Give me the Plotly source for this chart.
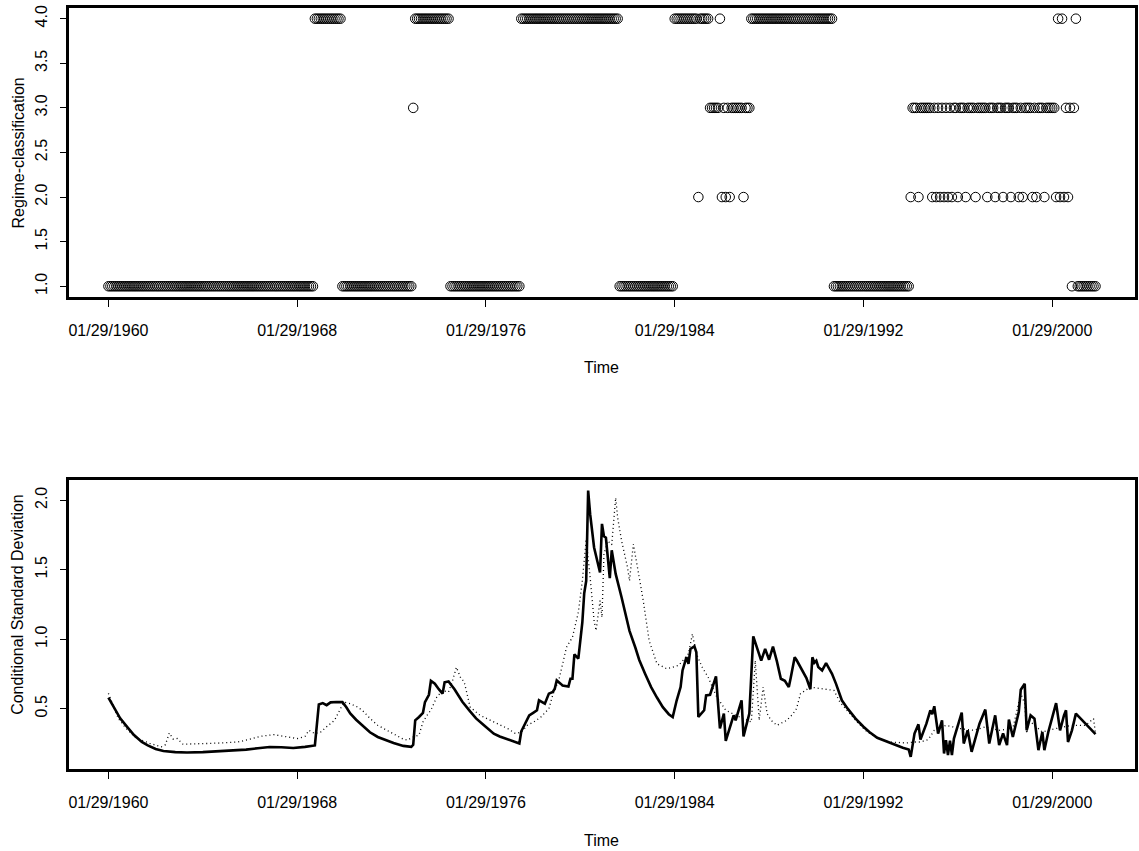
import pandas as pd
import plotly.graph_objects as go

# ---------------- data ----------------
START = "1960-01-29"          # first monthly observation
N_MONTHS = 503                # Jan 1960 .. Nov 2001

# regime classification, run-length encoded (regime, number of consecutive months)
regime_values = [1, 4, 1, 3, 4, 1, 4, 1, 4, 2, 4, 3, 4, 2, 3, 2, 3, 2, 3, 2, 3,
                 4, 1, 2, 3, 2, 3,
                 2, 3, 2, 3, 2, 3, 2, 3, 2, 3, 2, 3, 2, 3, 2, 3, 2, 3, 2, 3, 2, 3,
                 2, 3, 2, 3, 2, 3, 2, 3, 2, 3, 2, 3, 2, 3,
                 2, 4, 2, 4, 2, 3, 2, 3, 1, 3, 4, 1]
regime_lengths = [105, 14, 36, 1, 18, 36, 50, 28, 12, 1, 5, 5, 1, 1, 1, 1, 1, 1, 6, 1, 3,
                  42, 39, 1, 3, 1, 6,
                  1, 1, 1, 1, 1, 1, 1, 1, 1, 1, 1, 2, 1, 3, 1, 4, 1, 5, 1, 3,
                  1, 3, 1, 3, 1, 3, 1, 1, 1, 4, 1, 1, 1, 3, 1, 5,
                  1, 1, 1, 1, 1, 1, 1, 1, 1, 1, 1, 10]

# conditional standard deviation (solid line): month index, value
sd_months = [0, 3, 6, 10, 13, 17, 20, 24, 28, 34, 40, 48, 55, 63, 70, 76, 82, 88, 94, 100,
             104, 105, 107, 109, 111, 113, 116, 119, 121, 123, 126, 130, 133, 137, 141, 145,
             150, 154, 155, 156, 158, 160, 161, 163, 164, 166, 168, 170, 171, 173, 176, 180,
             184, 187, 191, 196, 199, 203, 206, 209, 210, 212, 214, 216, 218, 219, 221, 222,
             224, 226, 227, 228, 230, 231, 234, 235, 236, 237, 239, 240, 241, 242, 243, 244,
             245, 247, 248, 249, 250, 251, 252, 253, 255, 256, 258, 261, 263, 265, 268, 270,
             273, 276, 279, 282, 285, 287, 289, 291, 292, 294, 295, 296, 298, 299, 300, 303,
             304, 306, 309, 311, 313, 314, 318, 319, 322, 323, 326, 328, 332, 334, 336, 338,
             340, 342, 344, 346, 347, 349, 350, 352, 355, 357, 358, 359, 360, 361, 363, 365,
             368, 370, 373, 376, 380, 384, 387, 391, 396, 400, 404, 407, 408, 410, 412, 413,
             416, 418, 419, 420, 422, 424, 425, 426, 427, 428, 429, 430, 434, 435, 437, 439,
             443, 446, 448, 451, 453, 455, 457, 458, 460, 463, 464, 466, 467, 469, 471, 473,
             475, 476, 478, 482, 484, 486, 487, 488, 490, 492, 502]
sd_values = [0.58, 0.50, 0.43, 0.36, 0.31, 0.26, 0.235, 0.21, 0.195, 0.187, 0.184, 0.187,
             0.192, 0.198, 0.205, 0.215, 0.224, 0.222, 0.217, 0.225,
             0.232, 0.235, 0.53, 0.54, 0.525, 0.545, 0.548, 0.547, 0.51, 0.465, 0.42, 0.368,
             0.33, 0.296, 0.272, 0.253,
             0.232, 0.225, 0.24, 0.416, 0.44, 0.47, 0.547, 0.60, 0.70, 0.68, 0.64, 0.608,
             0.69, 0.696, 0.64, 0.55,
             0.48, 0.43, 0.38, 0.32, 0.30, 0.278, 0.262, 0.249, 0.337, 0.40, 0.452, 0.47,
             0.488, 0.56, 0.54, 0.536,
             0.608, 0.62, 0.643, 0.703, 0.68, 0.667, 0.66, 0.715, 0.715, 0.89, 0.86, 1.0,
             1.12, 1.33, 1.42, 2.07,
             1.90, 1.66, 1.60, 1.55, 1.48, 1.83, 1.74, 1.73, 1.44, 1.64, 1.47, 1.30, 1.18,
             1.06, 0.94, 0.85,
             0.75, 0.655, 0.58, 0.511, 0.46, 0.44, 0.56, 0.655, 0.775, 0.87, 0.823, 0.93,
             0.949, 0.906, 0.44, 0.488,
             0.595, 0.60, 0.732, 0.357, 0.464, 0.268, 0.452, 0.416, 0.56, 0.30, 0.464, 1.02,
             0.846, 0.93, 0.852, 0.947,
             0.84, 0.715, 0.70, 0.655, 0.722, 0.87, 0.85, 0.80, 0.72, 0.64, 0.87, 0.83,
             0.845, 0.80, 0.775, 0.827,
             0.751, 0.68, 0.56, 0.50, 0.428, 0.37, 0.332, 0.29, 0.26, 0.238, 0.218, 0.206,
             0.153, 0.321, 0.387, 0.278,
             0.392, 0.488, 0.46, 0.517, 0.321, 0.416, 0.177, 0.273, 0.165, 0.27, 0.165,
             0.285, 0.471, 0.249, 0.344, 0.189,
             0.392, 0.493, 0.249, 0.452, 0.237, 0.321, 0.237, 0.421, 0.296, 0.476, 0.636,
             0.679, 0.344, 0.452, 0.428, 0.201,
             0.332, 0.201, 0.332, 0.540, 0.344, 0.452, 0.488, 0.26, 0.344, 0.464, 0.316]

# second estimate (dotted line): month index, value
dot_months = [0, 5, 9, 14, 21, 27, 29, 31, 33, 35, 38, 45, 52, 60, 66, 72, 77, 84, 90, 96,
              100, 102, 105, 108, 111, 115, 118, 120, 123, 127, 130, 133, 137, 141, 145, 150,
              152, 155, 158, 160, 162, 164, 167, 170, 173, 175, 177, 179, 181, 184, 189, 196,
              203, 207, 210, 213, 217, 220, 224, 226, 229, 231, 233, 236, 239, 241, 243, 245,
              247, 248, 250, 251, 252, 254, 256, 258, 259, 261, 264, 265, 267, 270, 272, 275,
              279, 284, 287, 290, 293, 295, 297, 299, 302, 305, 309, 314, 321, 327, 329, 330,
              331, 333, 335, 337, 340, 345, 348, 350, 352, 357, 362, 369, 372, 377, 381, 386,
              391, 397, 406, 410, 413, 417, 420, 426, 433, 440, 446, 453, 460, 464, 466, 467,
              468, 475, 482, 490, 497, 501, 502]
dot_values = [0.61, 0.43, 0.357, 0.29, 0.25, 0.225, 0.24, 0.325, 0.28, 0.285, 0.244, 0.245,
              0.25, 0.255, 0.26, 0.28, 0.30, 0.313, 0.30, 0.285,
              0.30, 0.344, 0.32, 0.332, 0.37, 0.416, 0.50, 0.547, 0.536, 0.51, 0.476, 0.43,
              0.38, 0.35, 0.321, 0.28,
              0.273, 0.296, 0.31, 0.404, 0.45, 0.49, 0.583, 0.631, 0.62, 0.70, 0.798, 0.727,
              0.69, 0.511, 0.452, 0.404,
              0.357, 0.321, 0.33, 0.38, 0.41, 0.44, 0.50, 0.60, 0.703, 0.82, 0.942, 1.014,
              1.193, 1.42, 1.72, 1.444,
              1.133, 1.062, 1.277, 1.157, 1.612, 1.707, 1.68, 2.018, 1.874, 1.707, 1.516,
              1.42, 1.684, 1.444, 1.277, 0.99,
              0.823, 0.787, 0.80, 0.811, 0.86, 0.895, 1.038, 0.895, 0.798, 0.727, 0.595,
              0.488, 0.440, 0.404, 0.846, 0.608,
              0.416, 0.655, 0.464, 0.416, 0.380, 0.416, 0.46, 0.5, 0.608, 0.655, 0.643, 0.631,
              0.547, 0.464, 0.40, 0.332,
              0.29, 0.260, 0.253, 0.26, 0.260, 0.278, 0.344, 0.380, 0.357, 0.344, 0.368,
              0.344, 0.357, 0.608, 0.536, 0.321,
              0.416, 0.332, 0.357, 0.380, 0.380, 0.428, 0.321]

tick_months = [0, 96, 192, 288, 384, 480]
tick_labels = ["01/29/1960", "01/29/1968", "01/29/1976", "01/29/1984", "01/29/1992", "01/29/2000"]
regime_ticks = [1.0, 1.5, 2.0, 2.5, 3.0, 3.5, 4.0]
sd_ticks = [0.5, 1.0, 1.5, 2.0]

# ---------------- build ----------------
base = pd.Timestamp(START)


def mdate(m):
    return base + pd.DateOffset(months=int(m))


regime_series = []
for val, n in zip(regime_values, regime_lengths):
    regime_series.extend([val] * n)
assert len(regime_series) == N_MONTHS

regime_dates = [mdate(m) for m in range(N_MONTHS)]
sd_dates = [mdate(m) for m in sd_months]
dot_dates = [mdate(m) for m in dot_months]

first, last = regime_dates[0], regime_dates[-1]
pad = (last - first) * 0.04
xrange = [first - pad, last + pad]

W, H = 1139, 851
FONT = "Liberation Sans, Arial, Helvetica, sans-serif"
FS = 16
xdom = [68 / W, 1135 / W]
top_dom = [1 - 295 / H, 1 - 5 / H]
bot_dom = [1 - 768.3 / H, 1 - 478.3 / H]

fig = go.Figure()
fig.add_trace(go.Scatter(
    x=regime_dates, y=regime_series, mode="markers", xaxis="x", yaxis="y",
    marker=dict(symbol="circle-open", size=9.5, color="black", line=dict(width=1)),
    showlegend=False, name="Regime"))
fig.add_trace(go.Scatter(
    x=dot_dates, y=dot_values, mode="lines", xaxis="x2", yaxis="y2",
    line=dict(color="black", width=1.3, dash="1px,3px"), showlegend=False, name="dotted"))
fig.add_trace(go.Scatter(
    x=sd_dates, y=sd_values, mode="lines", xaxis="x2", yaxis="y2",
    line=dict(color="black", width=2.6), showlegend=False, name="Conditional SD"))

xtickvals = [mdate(m) for m in tick_months]
common_x = dict(
    type="date", range=xrange, domain=xdom, tickmode="array", tickvals=xtickvals,
    ticktext=tick_labels, ticks="outside", ticklen=7, tickwidth=1, tickcolor="black",
    showline=True, linewidth=3, linecolor="black", mirror=True, showgrid=False,
    zeroline=False, tickfont=dict(family=FONT, size=FS, color="black"),
    ticklabelstandoff=10,
)
common_y = dict(
    ticks="outside", ticklen=6, tickwidth=1, tickcolor="black", tickangle=-90,
    showline=True, linewidth=3, linecolor="black", mirror=True, showgrid=False,
    zeroline=False, tickfont=dict(family=FONT, size=FS, color="black"),
    tickmode="array", ticklabelstandoff=7,
)

fig.update_layout(
    width=W, height=H, autosize=False,
    margin=dict(l=0, r=0, t=0, b=0),
    paper_bgcolor="white", plot_bgcolor="white",
    font=dict(family=FONT, size=FS, color="black"),
    xaxis=dict(anchor="y", **common_x),
    yaxis=dict(anchor="x", domain=top_dom, range=[0.88, 4.12], tickvals=regime_ticks,
               ticktext=[f"{v:.1f}" for v in regime_ticks], **common_y),
    xaxis2=dict(anchor="y2", **common_x),
    yaxis2=dict(anchor="x2", domain=bot_dom, range=[0.0685, 2.1485], tickvals=sd_ticks,
                ticktext=[f"{v:.1f}" for v in sd_ticks], **common_y),
)

xc = (xdom[0] + xdom[1]) / 2
ann = [
    dict(text="Time", x=xc, y=1 - 366 / H),
    dict(text="Time", x=xc, y=1 - 840 / H),
    dict(text="Regime-classification", x=17 / W, y=1 - 150 / H, textangle=-90),
    dict(text="Conditional Standard Deviation", x=17 / W, y=1 - 603 / H, textangle=-90),
]
for a in ann:
    fig.add_annotation(xref="paper", yref="paper", showarrow=False,
                       xanchor="center", yanchor="middle",
                       font=dict(family=FONT, size=FS, color="black"), **a)

fig.write_html("out.html")
